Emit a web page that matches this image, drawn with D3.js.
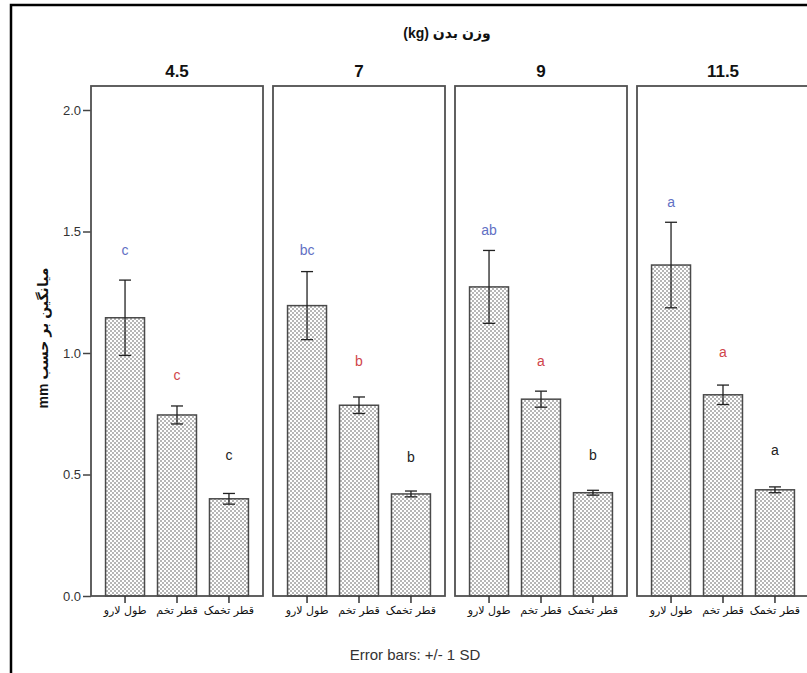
<!DOCTYPE html>
<html><head><meta charset="utf-8">
<script src="https://cdn.jsdelivr.net/npm/d3@7"></script>
<style>
html,body{margin:0;padding:0;background:#fff;}
svg{display:block;font-family:"Liberation Sans","DejaVu Sans",Arial,sans-serif;}
</style></head>
<body>
<svg id="chart" width="807" height="673"></svg>
<script>
// ---- data ----
const panels = ["4.5", "7", "9", "11.5"];
const measures = ["طول لارو", "قطر تخم", "قطر تخمک"];
const means = [
  [1.145, 0.745, 0.400],
  [1.195, 0.785, 0.420],
  [1.272, 0.810, 0.425],
  [1.362, 0.828, 0.437]
];
const sds = [
  [0.155, 0.037, 0.022],
  [0.140, 0.034, 0.012],
  [0.150, 0.033, 0.010],
  [0.176, 0.040, 0.012]
];
const letters = [
  ["c", "c", "c"],
  ["bc", "b", "b"],
  ["ab", "a", "b"],
  ["a", "a", "a"]
];
const letterAt = [
  [1.424, 0.909, 0.580],
  [1.424, 0.967, 0.572],
  [1.506, 0.967, 0.580],
  [1.622, 1.004, 0.601]
];
const yTicks = [0.0, 0.5, 1.0, 1.5, 2.0];
const letterColors = ["#6270c4", "#d0454a", "#222"];
const titleText = "وزن بدن (kg)";
const yTitle = "میانگین بر حسب mm";
const footnote = "Error bars: +/- 1 SD";

// ---- layout ----
const svg = d3.select("#chart");
const plotTop = 86, plotBottom = 596;
const y = d3.scaleLinear().domain([0, 2.0]).range([plotBottom, plotBottom - 2.0 * 243]);
const px = d3.scaleBand().domain(panels).range([91, 809]).paddingInner(10 / 182);

const defs = svg.append("defs");
const pat = defs.append("pattern").attr("id", "dots").attr("patternUnits", "userSpaceOnUse")
  .attr("width", 4).attr("height", 4);
pat.append("rect").attr("width", 4).attr("height", 4).attr("fill", "#fff");
pat.append("rect").attr("x", 0).attr("y", 0).attr("width", 2).attr("height", 2).attr("fill", "#b6b6b6");
pat.append("rect").attr("x", 2).attr("y", 2).attr("width", 2).attr("height", 2).attr("fill", "#b6b6b6");

// outer border
svg.append("rect").attr("x", 11).attr("y", 5).attr("width", 820).attr("height", 700)
  .attr("fill", "none").attr("stroke", "#000").attr("stroke-width", 2.5);

// title
svg.append("text").attr("x", 447).attr("y", 38).attr("text-anchor", "middle")
  .attr("direction", "rtl").style("unicode-bidi", "embed")
  .attr("font-size", 14).attr("font-weight", "bold").attr("fill", "#111").text(titleText);

// y axis
const yAxis = d3.axisLeft(y).tickValues(yTicks).tickFormat(d3.format(".1f")).tickSize(8).tickPadding(2);
const ya = svg.append("g").attr("transform", "translate(91,0)").call(yAxis);
ya.select(".domain").remove();
ya.selectAll(".tick line").attr("stroke", "#444").attr("stroke-width", 1.5);
ya.selectAll(".tick text").attr("font-size", 13).attr("fill", "#333")
  .attr("font-family", "'Liberation Sans',Arial,sans-serif");

// y title
svg.append("text").attr("transform", "translate(48,338) rotate(-90)").attr("text-anchor", "middle")
  .attr("direction", "rtl").style("unicode-bidi", "embed")
  .attr("font-size", 14).attr("font-weight", "bold").attr("fill", "#111").text(yTitle);

// panels
panels.forEach((p, pi) => {
  const x0 = px(p), w = px.bandwidth();
  const g = svg.append("g");
  const x = d3.scaleBand().domain(measures).range([x0, x0 + w]).paddingInner(0.25).paddingOuter(0.28);

  g.append("text").attr("x", x0 + w / 2).attr("y", 77).attr("text-anchor", "middle")
    .attr("font-size", 17).attr("font-weight", "bold").attr("fill", "#111").text(p);

  // bars
  g.selectAll("rect.bar").data(measures).join("rect").attr("class", "bar")
    .attr("x", d => x(d)).attr("width", x.bandwidth())
    .attr("y", (d, i) => y(means[pi][i])).attr("height", (d, i) => y(0) - y(means[pi][i]))
    .attr("fill", "url(#dots)").attr("stroke", "#4a4a4a").attr("stroke-width", 1.5);

  // error bars
  measures.forEach((m, i) => {
    const cx = x(m) + x.bandwidth() / 2;
    const hi = y(means[pi][i] + sds[pi][i]), lo = y(means[pi][i] - sds[pi][i]);
    const eg = g.append("g").attr("stroke", "#222").attr("stroke-width", 1.3);
    eg.append("line").attr("x1", cx).attr("x2", cx).attr("y1", hi).attr("y2", lo);
    eg.append("line").attr("x1", cx - 6).attr("x2", cx + 6).attr("y1", hi).attr("y2", hi);
    eg.append("line").attr("x1", cx - 6).attr("x2", cx + 6).attr("y1", lo).attr("y2", lo);
    g.append("text").attr("x", cx).attr("y", y(letterAt[pi][i]) + 5).attr("text-anchor", "middle")
      .attr("font-size", 14).attr("fill", letterColors[i]).text(letters[pi][i]);
  });

  // frame
  g.append("rect").attr("x", x0).attr("y", plotTop).attr("width", w).attr("height", plotBottom - plotTop)
    .attr("fill", "none").attr("stroke", "#505050").attr("stroke-width", 1.8);

  // x axis
  const xa = g.append("g").attr("transform", `translate(0,${plotBottom})`)
    .call(d3.axisBottom(x).tickSize(7).tickPadding(3));
  xa.select(".domain").remove();
  xa.selectAll(".tick line").attr("stroke", "#333").attr("stroke-width", 1.5);
  xa.selectAll(".tick text").attr("font-size", 11).attr("fill", "#111")
    .attr("font-family", "'DejaVu Sans',sans-serif");
});

// footnote
svg.append("text").attr("x", 415).attr("y", 660).attr("text-anchor", "middle")
  .attr("font-size", 15).attr("fill", "#333").text(footnote);
</script>
</body></html>
